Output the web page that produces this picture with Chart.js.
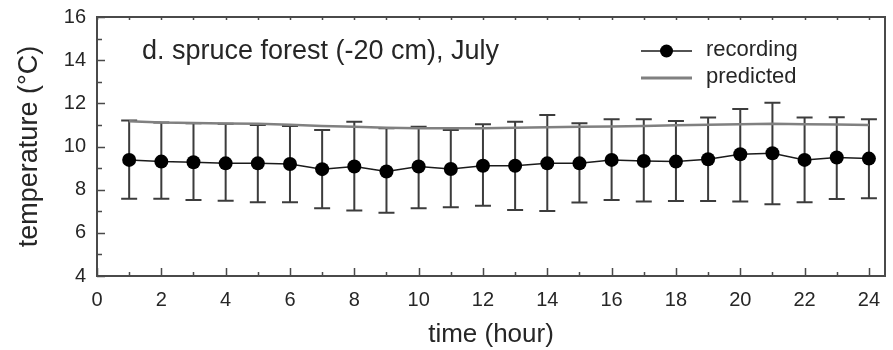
<!DOCTYPE html>
<html><head><meta charset="utf-8">
<script src="https://cdn.jsdelivr.net/npm/chart.js@4/dist/chart.umd.min.js"></script>
<style>html,body{margin:0;padding:0;background:#fff;}#wrap{width:893px;height:350px;}</style>
</head><body><div id="wrap"><canvas id="c" width="893" height="350"></canvas></div>
<script>
const hours = [1,2,3,4,5,6,7,8,9,10,11,12,13,14,15,16,17,18,19,20,21,22,23,24];
const recording = [9.38,9.30,9.27,9.22,9.22,9.19,8.95,9.07,8.84,9.07,8.96,9.11,9.11,9.22,9.22,9.38,9.33,9.30,9.41,9.64,9.69,9.38,9.49,9.44];
const errHigh = [11.20,11.11,11.08,11.05,11.00,10.95,10.77,11.15,10.85,10.92,10.77,11.03,11.15,11.46,11.08,11.26,11.26,11.18,11.34,11.74,12.03,11.34,11.36,11.26];
const errLow = [7.58,7.58,7.52,7.49,7.42,7.42,7.14,7.03,6.93,7.14,7.18,7.25,7.06,7.01,7.40,7.52,7.45,7.48,7.48,7.45,7.33,7.42,7.57,7.60];
const predicted = [11.17,11.11,11.09,11.07,11.05,11.01,10.95,10.91,10.87,10.85,10.85,10.85,10.87,10.89,10.91,10.93,10.95,10.98,11.01,11.03,11.05,11.03,11.02,11.00];
const xTickValues = [0,2,4,6,8,10,12,14,16,18,20,22,24];
const yTickValues = [4,6,8,10,12,14,16];
const panelTitle = 'd. spruce forest (-20 cm), July';
const seriesNames = ['recording','predicted'];
const xTitle = 'time (hour)';
const yTitle = 'temperature (\u00B0C)';

const FONT = "'Liberation Sans', Arial, sans-serif";
const AXIS = '#4a4a4a';
const TEXT = '#262626';
const PRED = '#808080';

const decor = {
  id: 'decor',
  beforeDatasetsDraw(chart) {
    const ctx = chart.ctx, xs = chart.scales.x, ys = chart.scales.y;
    ctx.save();
    ctx.strokeStyle = '#3c3c3c';
    ctx.lineWidth = 2;
    for (let i = 0; i < hours.length; i++) {
      const px = xs.getPixelForValue(hours[i]);
      const hi = ys.getPixelForValue(errHigh[i]);
      const lo = ys.getPixelForValue(errLow[i]);
      ctx.beginPath();
      ctx.moveTo(px, hi); ctx.lineTo(px, lo);
      ctx.moveTo(px - 8, hi); ctx.lineTo(px + 8, hi);
      ctx.moveTo(px - 8, lo); ctx.lineTo(px + 8, lo);
      ctx.stroke();
    }
    ctx.restore();
  },
  afterDraw(chart) {
    const ctx = chart.ctx, a = chart.chartArea, xs = chart.scales.x, ys = chart.scales.y;
    ctx.save();
    ctx.strokeStyle = AXIS;
    ctx.lineWidth = 2;
    ctx.strokeRect(a.left, a.top, a.right - a.left, a.bottom - a.top);
    ctx.lineWidth = 1.5;
    ctx.beginPath();
    for (let v = 0; v <= 24; v++) {
      const px = Math.round(xs.getPixelForValue(v)) + 0.5;
      const len = v % 2 === 0 ? 8 : 4;
      ctx.moveTo(px, a.bottom); ctx.lineTo(px, a.bottom - len);
      ctx.moveTo(px, a.top); ctx.lineTo(px, a.top + 3);
    }
    for (let v = 4; v <= 16; v++) {
      const py = Math.round(ys.getPixelForValue(v)) + 0.5;
      const len = v % 2 === 0 ? 8 : 5;
      ctx.moveTo(a.left, py); ctx.lineTo(a.left + len, py);
    }
    ctx.stroke();

    // panel title
    ctx.fillStyle = TEXT;
    ctx.font = '27px ' + FONT;
    ctx.textBaseline = 'alphabetic';
    ctx.textAlign = 'left';
    ctx.fillText(panelTitle, 142, 59);

    // legend
    ctx.strokeStyle = '#1a1a1a';
    ctx.lineWidth = 1.5;
    ctx.beginPath(); ctx.moveTo(641, 51); ctx.lineTo(692, 51); ctx.stroke();
    ctx.fillStyle = '#000';
    ctx.beginPath(); ctx.arc(666.5, 51, 6.5, 0, Math.PI * 2); ctx.fill();
    ctx.strokeStyle = PRED;
    ctx.lineWidth = 3;
    ctx.beginPath(); ctx.moveTo(641, 78); ctx.lineTo(692, 78); ctx.stroke();
    ctx.fillStyle = TEXT;
    ctx.font = '22px ' + FONT;
    ctx.textBaseline = 'middle';
    ctx.fillText(seriesNames[0], 706, 50);
    ctx.fillText(seriesNames[1], 706, 77);
    ctx.restore();
  }
};

new Chart(document.getElementById('c'), {
  type: 'line',
  data: {
    datasets: [
      {
        label: seriesNames[1],
        data: hours.map((h, i) => ({x: h, y: predicted[i]})),
        borderColor: PRED,
        borderWidth: 2.5,
        pointRadius: 0,
        tension: 0,
        order: 2
      },
      {
        label: seriesNames[0],
        data: hours.map((h, i) => ({x: h, y: recording[i]})),
        borderColor: '#1a1a1a',
        borderWidth: 1.5,
        pointRadius: 7,
        pointBackgroundColor: '#000',
        pointBorderColor: '#000',
        pointBorderWidth: 0,
        tension: 0,
        order: 1
      }
    ]
  },
  options: {
    responsive: false,
    animation: false,
    devicePixelRatio: 1,
    layout: { padding: { top: 17, right: 8, left: 0, bottom: 0 } },
    plugins: { legend: { display: false }, tooltip: { enabled: false } },
    scales: {
      x: {
        type: 'linear',
        min: 0, max: 24.5,
        afterBuildTicks: s => { s.ticks = xTickValues.map(v => ({ value: v })); },
        afterFit: s => { s.height = 74; s.paddingLeft = 0; s.paddingRight = 0; },
        grid: { display: false, drawTicks: false },
        border: { display: false },
        ticks: { color: TEXT, font: { family: FONT, size: 20 }, padding: 12, maxRotation: 0, autoSkip: false },
        title: { display: true, text: xTitle, color: TEXT, font: { family: FONT, size: 26 }, padding: 0 }
      },
      y: {
        type: 'linear',
        min: 4, max: 16,
        afterBuildTicks: s => { s.ticks = yTickValues.map(v => ({ value: v })); },
        afterFit: s => { s.width = 97; s.paddingTop = 0; s.paddingBottom = 0; },
        grid: { display: false, drawTicks: false },
        border: { display: false },
        ticks: { color: TEXT, font: { family: FONT, size: 20 }, padding: 11, autoSkip: false },
        title: { display: true, text: yTitle, color: TEXT, font: { family: FONT, size: 27 }, padding: { top: 13, bottom: 0 } }
      }
    }
  },
  plugins: [decor]
});
</script>
</body></html>
